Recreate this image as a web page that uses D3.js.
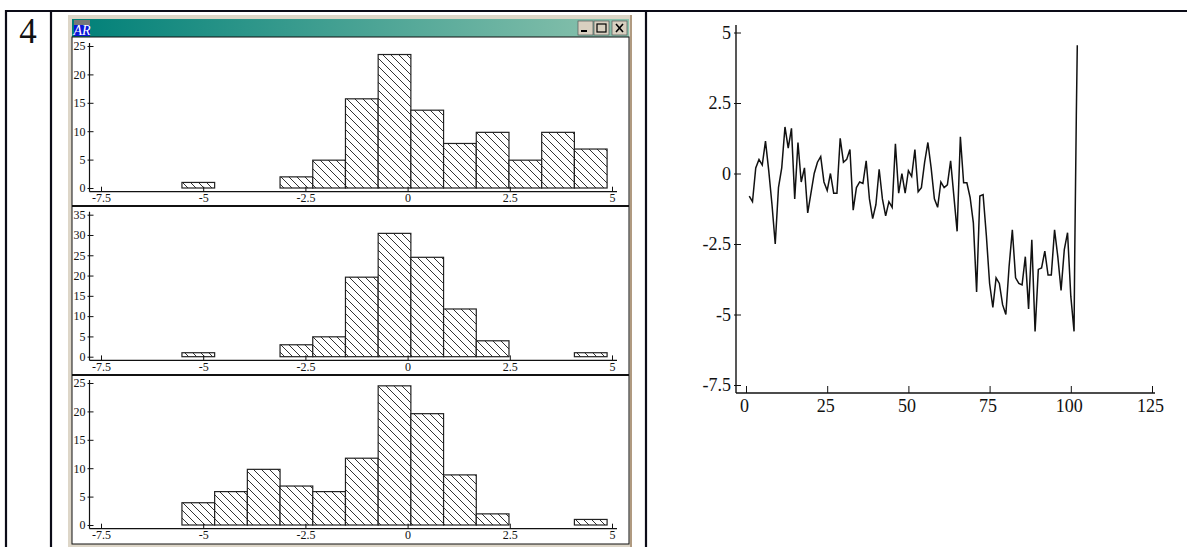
<!DOCTYPE html>
<meta charset="utf-8">
<style>
  html, body { margin: 0; background: #fff; overflow: hidden; }
  text { font-family: "Liberation Serif", serif; fill: #111; }
</style>
<script src="https://d3js.org/d3.v7.min.js"></script>
<div id="chart"></div>

<script>
// histogram bins, last edge closes the last bar
var binEdges = [-5.52, -4.72, -3.92, -3.12, -2.32, -1.52, -0.72, 0.08, 0.88, 1.68, 2.48, 3.28, 4.08, 4.88];

var hist1 = [0.98, 0, 0, 1.96, 4.9, 15.7, 23.5, 13.7, 7.84, 9.8, 4.9, 9.8, 6.86];
var hist2 = [0.98, 0, 0, 2.94, 4.9, 19.6, 30.4, 24.5, 11.76, 3.92, 0, 0, 0.98];
var hist3 = [3.92, 5.88, 9.8, 6.86, 5.88, 11.76, 24.5, 19.6, 8.82, 1.96, 0, 0, 0.98];

var histXTicks = [-7.5, -5, -2.5, 0, 2.5, 5];
var hist1YTicks = [0, 5, 10, 15, 20, 25];
var hist2YTicks = [0, 5, 10, 15, 20, 25, 30, 35];
var hist3YTicks = [0, 5, 10, 15, 20, 25];

// line chart on the right
var lineValues = [
  -0.8, -1.0, 0.2, 0.5, 0.3, 1.15, 0.1, -1.1, -2.5, -0.5,
  0.2, 1.65, 0.9, 1.6, -0.9, 1.1, -0.3, 0.2, -1.4, -0.7,
  0.0, 0.4, 0.6, -0.3, -0.6, 0.0, -0.7, -0.7, 1.25, 0.4,
  0.5, 0.85, -1.3, -0.5, -0.3, -0.35, 0.45, -0.9, -1.6, -1.1,
  0.15, -0.9, -1.5, -1.0, -1.2, 1.05, -0.7, 0.0, -0.7, 0.1,
  -0.1, 0.85, -0.65, -0.5, 0.4, 1.1, 0.2, -0.9, -1.2, -0.3,
  -0.5, -0.4, 0.45, -0.8, -2.05, 1.3, -0.33, -0.33, -0.85, -1.75,
  -4.2, -0.8, -0.75, -2.2, -3.9, -4.75, -3.7, -3.9, -4.65, -5.0,
  -3.3, -2.0, -3.7, -3.9, -3.95, -2.95, -4.8, -2.35, -5.6, -3.4,
  -3.35, -2.75, -3.6, -3.6, -2.0, -2.95, -4.15, -2.7, -2.1, -4.35,
  -5.6
];
// the last jump is drawn nearly vertical
var spikeX = [101.2, 101.7, 102];
var spikeValues = [-3.0, 2.05, 4.55];

var lineXTicks = [0, 25, 50, 75, 100, 125];
var lineYTicks = [-7.5, -5, -2.5, 0, 2.5, 5];

var fmt = function(d) { return String(d); };

var svg = d3.select("#chart").append("svg")
  .attr("width", 1187)
  .attr("height", 547)
  .style("display", "block");

var defs = svg.append("defs");

var hatch = defs.append("pattern")
  .attr("id", "hatch")
  .attr("patternUnits", "userSpaceOnUse")
  .attr("width", 8)
  .attr("height", 8);
hatch.append("rect").attr("width", 8).attr("height", 8).attr("fill", "#fff");
hatch.append("path")
  .attr("d", "M-2,-2L10,10M-10,-2L2,10M6,-2L18,10")
  .attr("stroke", "#333")
  .attr("stroke-width", 1);

var titleGrad = defs.append("linearGradient").attr("id", "titleGrad");
titleGrad.append("stop").attr("offset", "0%").attr("stop-color", "#008078");
titleGrad.append("stop").attr("offset", "100%").attr("stop-color", "#8cc3ae");

//----------------table lines---------------------
var tableLines = svg.append("g").attr("stroke", "#0c0c18").attr("stroke-width", 2.2);
tableLines.append("line").attr("x1", 5).attr("x2", 1187).attr("y1", 11).attr("y2", 11);
[6, 51, 646].forEach(function(x) {
  tableLines.append("line").attr("x1", x).attr("x2", x).attr("y1", 10).attr("y2", 547);
});

svg.append("text")
  .attr("x", 28)
  .attr("y", 43)
  .attr("text-anchor", "middle")
  .style("font-size", "35px")
  .text("4");

//----------------window frame---------------------
var win = svg.append("g");
win.append("rect").attr("x", 68).attr("y", 15).attr("width", 564).attr("height", 532).attr("fill", "#ddd6c8");
win.append("rect").attr("x", 630).attr("y", 15).attr("width", 2).attr("height", 532).attr("fill", "#b09a80");
win.append("rect").attr("x", 72).attr("y", 19).attr("width", 557).attr("height", 18).attr("fill", "url(#titleGrad)");
win.append("rect").attr("x", 72).attr("y", 37).attr("width", 557).attr("height", 507)
  .attr("fill", "#fff").attr("stroke", "#111").attr("stroke-width", 1);

// little icon in the title bar
win.append("rect").attr("x", 74).attr("y", 20).attr("width", 16).attr("height", 16).attr("fill", "#0a14d8");
win.append("rect").attr("x", 74).attr("y", 20).attr("width", 16).attr("height", 5).attr("fill", "#777");
win.append("text").attr("x", 82).attr("y", 35).attr("text-anchor", "middle")
  .style("font-size", "14px").style("font-style", "italic").style("fill", "#fff").text("AR");

// min / max / close buttons
[{x: 578, k: "min"}, {x: 594, k: "max"}, {x: 612, k: "close"}].forEach(function(b) {
  win.append("rect").attr("x", b.x).attr("y", 21).attr("width", 15).attr("height", 14)
    .attr("fill", "#d8d0c0").attr("stroke", "#555").attr("stroke-width", 0.7);
  if (b.k == "min") {
    win.append("rect").attr("x", b.x + 3).attr("y", 30).attr("width", 6).attr("height", 2).attr("fill", "#000");
  }
  if (b.k == "max") {
    win.append("rect").attr("x", b.x + 3).attr("y", 24).attr("width", 9).attr("height", 8)
      .attr("fill", "none").attr("stroke", "#000").attr("stroke-width", 1.2);
  }
  if (b.k == "close") {
    win.append("path").attr("d", "M" + (b.x + 4) + ",24L" + (b.x + 11) + ",32M" + (b.x + 11) + ",24L" + (b.x + 4) + ",32")
      .attr("stroke", "#000").attr("stroke-width", 1.6);
  }
});

// separators between the three panels
[206, 375].forEach(function(y) {
  win.append("line").attr("x1", 72).attr("x2", 629).attr("y1", y).attr("y2", y)
    .attr("stroke", "#111").attr("stroke-width", 2);
});

//----------------histograms---------------------
var xHist = d3.scaleLinear().domain([-7.5, 5]).range([101, 612]);

function drawHist(values, yTicks, y0, yTop) {
  var top = d3.max(yTicks);
  var ys = d3.scaleLinear().domain([0, top]).range([y0, yTop]);
  var g = svg.append("g");
  var axisY = y0 + 3.7;

  g.selectAll("rect.bar")
    .data(values)
    .enter().append("rect")
    .attr("class", "bar")
    .attr("x", function(d, i) { return xHist(binEdges[i]); })
    .attr("y", function(d) { return ys(d); })
    .attr("width", function(d, i) { return xHist(binEdges[i + 1]) - xHist(binEdges[i]); })
    .attr("height", function(d) { return y0 - ys(d); })
    .attr("fill", "url(#hatch)")
    .attr("stroke", "#222")
    .attr("stroke-width", 1.2);

  // axes
  var yAxis = g.append("g")
    .attr("transform", "translate(89.5,0)")
    .call(d3.axisLeft(ys).tickValues(yTicks).tickFormat(fmt).tickSize(0));
  yAxis.select(".domain").remove();
  yAxis.selectAll(".tick line").attr("x1", -2).attr("x2", 4).attr("y2", 0).attr("stroke", "#111");
  yAxis.selectAll(".tick text").attr("x", -4).style("font-size", "12px").style("font-family", null);

  var xAxis = g.append("g")
    .attr("transform", "translate(0," + axisY + ")")
    .call(d3.axisBottom(xHist).tickValues(histXTicks).tickFormat(fmt).tickSize(0));
  xAxis.select(".domain").remove();
  xAxis.selectAll(".tick line").attr("y1", -5).attr("y2", 0).attr("stroke", "#111");
  xAxis.selectAll(".tick text").attr("y", 2).style("font-size", "12px").style("font-family", null);

  g.append("line").attr("x1", 89.5).attr("x2", 89.5).attr("y1", ys(top) - 3).attr("y2", axisY)
    .attr("stroke", "#111").attr("stroke-width", 1.2);
  g.append("line").attr("x1", 89.5).attr("x2", 617).attr("y1", axisY).attr("y2", axisY)
    .attr("stroke", "#111").attr("stroke-width", 1.2);
}

drawHist(hist1, hist1YTicks, 188, 46);
drawHist(hist2, hist2YTicks, 356.7, 214.7);
drawHist(hist3, hist3YTicks, 525, 383);

//----------------line chart---------------------
var xLine = d3.scaleLinear().domain([0, 125]).range([746, 1152]);
var yLine = d3.scaleLinear().domain([-7.5, 5]).range([385, 32.5]);

var lineG = svg.append("g");

var lineX = lineValues.map(function(d, i) { return i + 1; }).concat(spikeX);
var lineY = lineValues.concat(spikeValues);

lineG.append("path")
  .datum(lineY)
  .attr("fill", "none")
  .attr("stroke", "#111")
  .attr("stroke-width", 1.5)
  .attr("d", d3.line()
    .x(function(d, i) { return xLine(lineX[i]); })
    .y(function(d) { return yLine(d); }));

var lineAxisY = lineG.append("g")
  .attr("transform", "translate(736,0)")
  .call(d3.axisLeft(yLine).tickValues(lineYTicks).tickFormat(fmt).tickSize(0));
lineAxisY.select(".domain").remove();
lineAxisY.selectAll(".tick line").attr("x1", -2).attr("x2", 5).attr("stroke", "#111");
lineAxisY.selectAll(".tick text").attr("x", -5).style("font-size", "18px").style("font-family", null);

var lineAxisX = lineG.append("g")
  .attr("transform", "translate(0,393)")
  .call(d3.axisBottom(xLine).tickValues(lineXTicks).tickFormat(fmt).tickSize(0));
lineAxisX.select(".domain").remove();
lineAxisX.selectAll(".tick line").attr("y1", -7).attr("y2", 0).attr("stroke", "#111");
lineAxisX.selectAll(".tick text").attr("y", 6).attr("dx", -2).style("font-size", "18px").style("font-family", null);

lineG.append("line").attr("x1", 736).attr("x2", 736).attr("y1", 25).attr("y2", 393)
  .attr("stroke", "#111").attr("stroke-width", 1.4);
lineG.append("line").attr("x1", 736).attr("x2", 1155).attr("y1", 393).attr("y2", 393)
  .attr("stroke", "#111").attr("stroke-width", 1.4);
</script>
